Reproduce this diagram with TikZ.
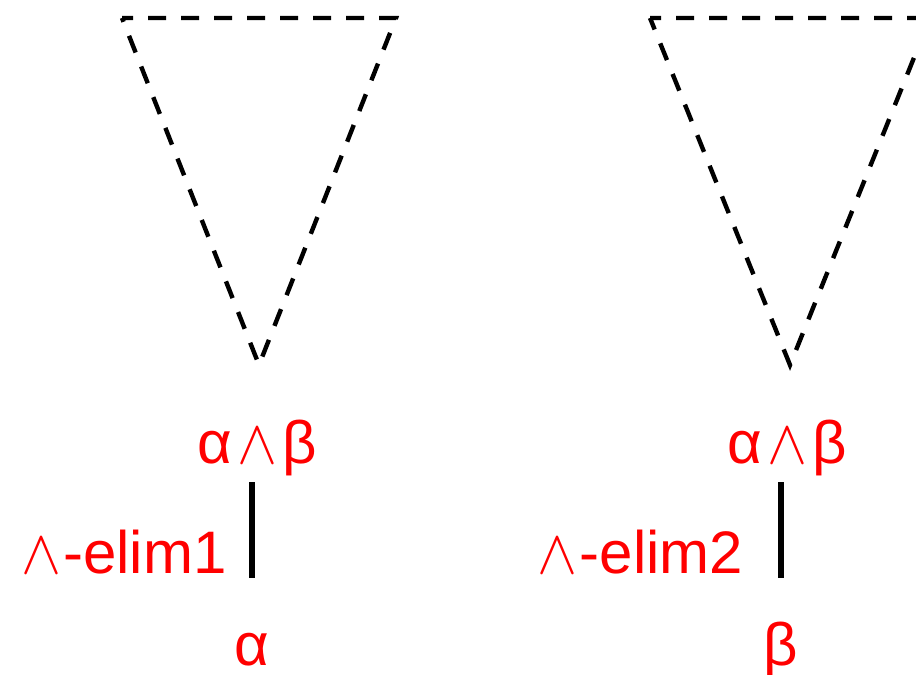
\documentclass[tikz,border=0pt]{standalone}
\usepackage{fontspec}
\setmainfont{Liberation Sans}
\newcommand{\andsym}{\scalebox{4.5}[4.7]{\fontsize{10}{12}\selectfont$\wedge$}}
\begin{document}
\begin{tikzpicture}[x=0.75pt,y=-0.75pt,
  lbl/.style={text=red,font=\fontsize{45}{54}\selectfont,inner sep=0pt},
  tri/.style={draw=black,line width=3.3pt,dash pattern=on 13.5pt off 11.25pt,dash phase=5.25pt,line join=miter},
  rule/.style={draw=black,line width=4.5pt}]
\useasboundingbox (0,0) rectangle (916,674);
% left derivation
\draw[tri] (122,18) -- (396,18) -- (259,365) -- cycle;
\node[lbl,anchor=base] (c1) at (257.5,463) {α\kern4pt\andsym\kern4pt β};
\node[lbl,anchor=base west] (r1) at (21,573) {\andsym\kern1.5pt -elim1};
\node[lbl,anchor=base] (a1) at (251.5,665) {α};
\draw[rule] (a1.north |- 0,482) -- (a1.north |- 0,578);
% right derivation
\draw[tri] (650,18) -- (930,18) -- (790,365) -- cycle;
\node[lbl,anchor=base] (c2) at (787,463) {α\kern4pt\andsym\kern4pt β};
\node[lbl,anchor=base west] (r2) at (537,573) {\andsym\kern2pt -elim2};
\node[lbl,anchor=base] (b2) at (781,665) {β};
\draw[rule] (b2.north |- 0,482) -- (b2.north |- 0,578);
\end{tikzpicture}
\end{document}
